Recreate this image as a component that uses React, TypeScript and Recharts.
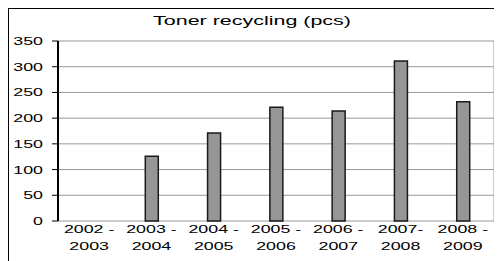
import React from "react";
import { Bar, BarChart, CartesianGrid, XAxis, YAxis } from "recharts";

const seasons = [
  "2002 - 2003",
  "2003 - 2004",
  "2004 - 2005",
  "2005 - 2006",
  "2006 - 2007",
  "2007- 2008",
  "2008 - 2009",
];
const toners = [0, 126, 171, 221, 214, 311, 232];
const yTicks = [0, 50, 100, 150, 200, 250, 300, 350];
// category boundaries, where Excel puts the x tick marks
const bounds = [0, 1, 2, 3, 4, 5, 6, 7];

const data = seasons.map((season, i) => ({ season, toners: toners[i] }));

const FONT = "'Liberation Sans', Arial, sans-serif";
const STRETCH = 1.62;
const W = 494;
const H = 253;
const PLOT_LEFT = 50;
const PLOT_RIGHT = 486;
const PLOT_TOP = 33;
const PLOT_BOTTOM = 213;

function YTick({ x, y, payload }: any) {
  return (
    <text
      transform={`translate(${x},${y}) scale(${STRETCH},1)`}
      textAnchor="end"
      dy={4}
      fontSize={11}
      fontFamily={FONT}
      fill="#000"
    >
      {payload.value}
    </text>
  );
}

function XTick({ x, y, payload }: any) {
  const label = String(payload.value);
  const cut = label.lastIndexOf(" ");
  const top = label.slice(0, cut);
  const bottom = label.slice(cut + 1);
  return (
    <g transform={`translate(${x},${y}) scale(${STRETCH},1)`} fontSize={11} fontFamily={FONT} fill="#000">
      <text textAnchor="middle" y={12.3}>
        {top}
      </text>
      <text textAnchor="middle" y={29}>
        {bottom}
      </text>
    </g>
  );
}

function NoLabel() {
  return <g />;
}

export default function App() {
  return (
    <div style={{ position: "relative", width: W, height: H }}>
      <BarChart
        width={W}
        height={H}
        data={data}
        margin={{ top: PLOT_TOP, right: W - PLOT_RIGHT, left: 0, bottom: 0 }}
        barCategoryGap={0}
      >
        <CartesianGrid
          stroke="#999"
          vertical={true}
          verticalCoordinatesGenerator={() => [PLOT_RIGHT]}
        />
        <XAxis
          xAxisId="marks"
          type="number"
          domain={[0, seasons.length]}
          ticks={bounds}
          interval={0}
          height={0}
          tick={<NoLabel />}
          tickSize={6}
          tickLine={{ stroke: "#000" }}
          axisLine={{ stroke: "#000" }}
        />
        <XAxis
          xAxisId="cat"
          dataKey="season"
          height={H - PLOT_BOTTOM}
          interval={0}
          tickLine={false}
          tickSize={0}
          tickMargin={0}
          axisLine={false}
          tick={<XTick />}
        />
        <YAxis
          width={PLOT_LEFT}
          domain={[0, 350]}
          ticks={yTicks}
          interval={0}
          tickSize={6}
          tickMargin={9}
          axisLine={{ stroke: "#000", strokeWidth: 2 }}
          tickLine={{ stroke: "#000" }}
          tick={<YTick />}
        />
        <Bar
          xAxisId="cat"
          dataKey="toners"
          barSize={13}
          fill="#969696"
          stroke="#1a1a1a"
          strokeWidth={1.5}
          isAnimationActive={false}
        />
      </BarChart>
      <div
        style={{
          position: "absolute",
          left: 0,
          top: 6,
          width: W,
          textAlign: "center",
          fontFamily: FONT,
          fontSize: 13,
          lineHeight: "13px",
          transform: `translateX(-3px) scaleX(1.65)`,
          pointerEvents: "none",
        }}
      >
        Toner recycling (pcs)
      </div>
      <div
        style={{
          position: "absolute",
          left: 0,
          top: 0,
          width: W,
          height: H,
          boxSizing: "border-box",
          borderTop: "1px solid #000",
          borderLeft: "1px solid #000",
          pointerEvents: "none",
        }}
      />
    </div>
  );
}
